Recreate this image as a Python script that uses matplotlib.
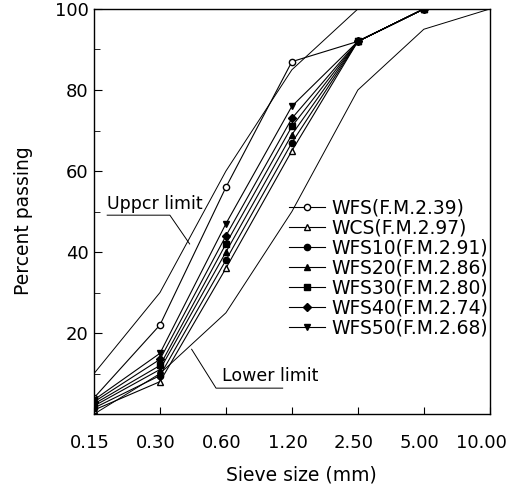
import matplotlib
matplotlib.use("Agg")
import matplotlib.pyplot as plt
from matplotlib.ticker import MultipleLocator
from matplotlib.transforms import ScaledTranslation

plt.rcParams['font.family'] = ['DejaVu Sans']

sieve = ["0.15", "0.30", "0.60", "1.20", "2.50", "5.00", "10.00"]
upper = [10, 30, 60, 85, 100, 100, 100]
lower = [0, 10, 25, 50, 80, 95, 100]
wfs   = [4, 22, 56, 87, 92, 100]
wcs   = [1, 8, 36, 65, 92, 100]
wfs10 = [1.5, 9.5, 38, 67, 92, 100]
wfs20 = [2, 11, 40, 69, 92, 100]
wfs30 = [2.5, 12, 42, 71, 92, 100]
wfs40 = [3, 13.5, 44, 73, 92, 100]
wfs50 = [3.5, 15, 47, 76, 92, 100]

series = [
    ("WFS(F.M.2.39)", wfs, "o", "white"),
    ("WCS(F.M.2.97)", wcs, "^", "white"),
    ("WFS10(F.M.2.91)", wfs10, "o", "black"),
    ("WFS20(F.M.2.86)", wfs20, "^", "black"),
    ("WFS30(F.M.2.80)", wfs30, "s", "black"),
    ("WFS40(F.M.2.74)", wfs40, "D", "black"),
    ("WFS50(F.M.2.68)", wfs50, "v", "black"),
]

FS = 13.5
fig = plt.figure(figsize=(5.12, 4.86), dpi=100)
ax = fig.add_axes([0.1836, 0.148, 0.773, 0.8335])
x = list(range(len(sieve)))

ax.plot(x, upper, color="black", lw=0.7)
ax.plot(x, lower, color="black", lw=0.7)
for name, vals, m, fc in series:
    ms = 4.5 if m != "D" else 4
    ax.plot(x[:len(vals)], vals, color="black", lw=0.8, marker=m, ms=ms,
            markerfacecolor=fc, markeredgecolor="black", markeredgewidth=1.0,
            label=name)

ax.set_xlim(0, 6)
ax.set_ylim(0, 100)
ax.set_xticks(x)
ax.set_xticklabels(sieve)
ax.set_yticks([20, 40, 60, 80, 100])
ax.yaxis.set_minor_locator(MultipleLocator(10))
ax.tick_params(axis="both", which="both", direction="in", labelsize=13)
ax.tick_params(axis="x", length=5, pad=14)
ax.tick_params(axis="y", which="major", length=6, pad=4)
ax.tick_params(axis="y", which="minor", length=4)
for s in ax.spines.values():
    s.set_linewidth(1.0)

# shift the x tick labels slightly left, as in the reference
for i, lab in enumerate(ax.get_xticklabels()):
    dx = -8 if i == len(sieve) - 1 else -4
    lab.set_transform(lab.get_transform() + ScaledTranslation(dx / 100, 0, fig.dpi_scale_trans))

ax.set_xlabel("Sieve size (mm)", fontsize=FS)
ax.set_ylabel("Percent passing", fontsize=FS)
ax.xaxis.set_label_coords(0.523, -0.128)
ax.yaxis.set_label_coords(-0.155, 0.477)

leg = ax.legend(loc="upper left", bbox_to_anchor=(0.475, 0.55), frameon=False,
                fontsize=FS, handlelength=1.9, handletextpad=0.35,
                labelspacing=0.05, borderaxespad=0)

# Annotations
AFS = 12.5
ax.text(0.2, 49.6, "Uppcr limit", fontsize=AFS, ha="left", va="bottom")
ax.plot([0.2, 1.15, 1.45], [49.1, 49.1, 42], color="black", lw=0.7)
ax.text(1.94, 7.2, "Lower limit", fontsize=AFS, ha="left", va="bottom")
ax.plot([2.86, 1.85, 1.48], [6.4, 6.4, 16], color="black", lw=0.7)

fig.savefig("out.png", dpi=100)
